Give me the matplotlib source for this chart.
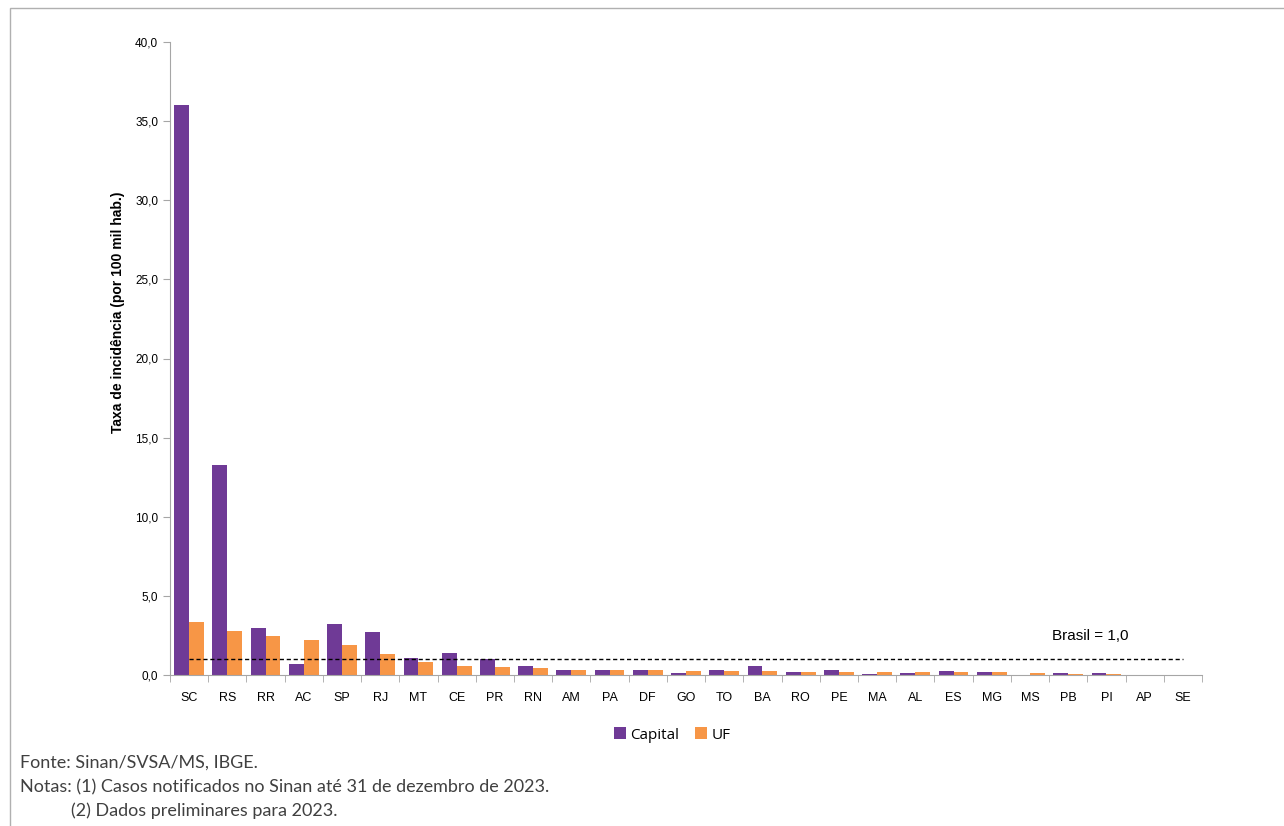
import numpy as np
import matplotlib.pyplot as plt
from matplotlib.patches import Rectangle

ufs = ["SC", "RS", "RR", "AC", "SP", "RJ", "MT", "CE", "PR", "RN", "AM", "PA", "DF", "GO",
       "TO", "BA", "RO", "PE", "MA", "AL", "ES", "MG", "MS", "PB", "PI", "AP", "SE"]
capital = [36.0, 13.3, 3.0, 0.7, 3.2, 2.7, 1.1, 1.4, 1.0, 0.55, 0.3, 0.3, 0.3, 0.1,
           0.3, 0.6, 0.17, 0.3, 0.09, 0.1, 0.26, 0.17, 0.0, 0.12, 0.12, 0.0, 0.0]
uf = [3.35, 2.8, 2.45, 2.2, 1.9, 1.3, 0.8, 0.55, 0.5, 0.42, 0.33, 0.3, 0.3, 0.28,
      0.23, 0.23, 0.21, 0.18, 0.16, 0.16, 0.16, 0.16, 0.12, 0.07, 0.06, 0.0, 0.0]
brasil = 1.0

purple = '#6f3a96'
orange = '#f79646'
axcol = '#a6a6a6'

fig = plt.figure(figsize=(12.84, 8.26), dpi=100)
ax = fig.add_axes([170/1284, 1-675/826, 1032/1284, 633/826])

x = np.arange(len(ufs))
w = 0.39
ax.bar(x - w/2, capital, w, color=purple, label='Capital')
ax.bar(x + w/2, uf, w, color=orange, label='UF')
ax.plot([x[0], x[-1]], [brasil, brasil], ls=(0, (3, 2)), color='black', lw=1)
ax.text(23.57, brasil + 1.2, 'Brasil = 1,0', fontsize=11, family='Liberation Sans', ha='center')

ax.set_xlim(-0.5, len(ufs) - 0.5)
ax.set_ylim(0, 40)
ax.set_yticks(np.arange(0, 41, 5))
ax.set_yticklabels([('%.1f' % v).replace('.', ',') for v in np.arange(0, 41, 5)])
ax.set_xticks(x)
ax.set_xticklabels(ufs)
ax.set_xticks(np.arange(-0.5, len(ufs)), minor=True)
ax.tick_params(axis='x', which='major', length=0, pad=12, labelsize=9)
ax.tick_params(axis='x', which='minor', length=5, color=axcol, direction='out')
ax.tick_params(axis='y', length=5, color=axcol, labelsize=8.5)
for lab in ax.get_xticklabels() + ax.get_yticklabels():
    lab.set_family('Liberation Sans')
for s in ['top', 'right']:
    ax.spines[s].set_visible(False)
ax.spines['left'].set_color(axcol)
ax.spines['bottom'].set_color(axcol)
ax.set_ylabel('Taxa de incidência (por 100 mil hab.)', fontsize=10, fontweight='bold',
              family='Liberation Sans')
ax.yaxis.set_label_coords(-0.044, 0.573)

fig.legend(loc='center', bbox_to_anchor=(672/1284, 1-735/826), ncol=2, frameon=False,
           handlelength=0.8, handleheight=0.8, handletextpad=0.3, columnspacing=1.0,
           prop={'family': 'Open Sans', 'size': 11})

fig.patches.append(Rectangle((10/1284, -0.01), 1.1, 1 - 8/826 + 0.01, transform=fig.transFigure,
                             fill=False, edgecolor='#b0b0b0', lw=1))

foot = dict(fontsize=13, family='Lato', color='#404040', va='center')
fig.text(20/1284, 1-763/826, 'Fonte: Sinan/SVSA/MS, IBGE.', **foot)
fig.text(20/1284, 1-787/826, 'Notas: (1) Casos notificados no Sinan até 31 de dezembro de 2023.', **foot)
fig.text(71/1284, 1-811/826, '(2) Dados preliminares para 2023.', **foot)

fig.savefig('out.png', dpi=100)
